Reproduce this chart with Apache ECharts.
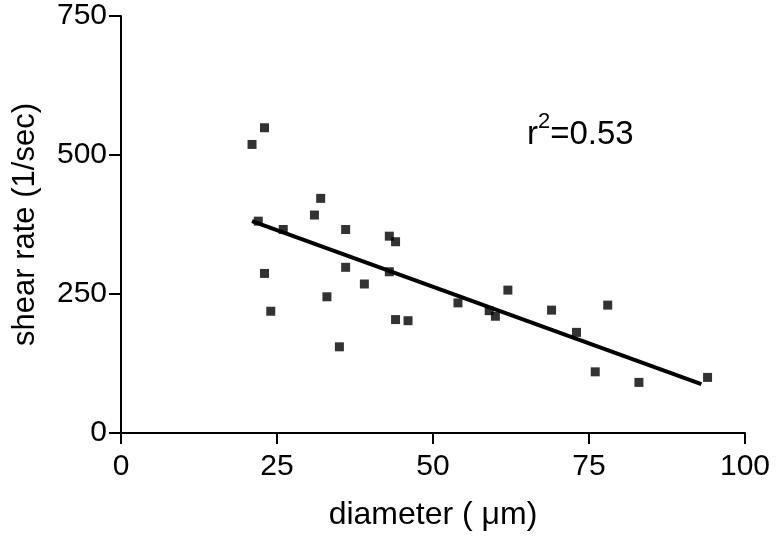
<!DOCTYPE html>
<html>
<head>
<meta charset="utf-8">
<script src="https://cdn.jsdelivr.net/npm/echarts@6/dist/echarts.min.js"></script>
<style>html,body{margin:0;padding:0;background:#fff}#c{width:778px;height:538px}</style>
</head>
<body>
<div id="c"></div>
<script>
// Data
var diameter = [21, 23, 32, 31, 22, 26, 36, 43, 44, 23, 36, 43, 39, 33, 24, 35, 44, 46, 54, 59, 60, 62, 69, 73, 78, 76, 83, 94];
var shearRate = [519, 549, 422, 392, 381, 366, 366, 354, 344, 287, 298, 290, 268, 245, 219, 155, 204, 202, 234, 220, 210, 257, 221, 181, 230, 110, 91, 100];
var fitX = [21, 93];
var fitY = [381, 88];
var xTicks = [0, 25, 50, 75, 100];
var yTicks = [0, 250, 500, 750];

var pts = diameter.map(function (d, i) { return [d, shearRate[i]]; });
var line = fitX.map(function (d, i) { return [d, fitY[i]]; });
var font = 'Liberation Sans, Arial, sans-serif';

var chart = echarts.init(document.getElementById('c'));
chart.setOption({
  animation: false,
  backgroundColor: '#fff',
  grid: { left: 121, right: 33, top: 16, bottom: 105 },
  xAxis: {
    type: 'value', min: 0, max: 100, interval: 25,
    name: 'diameter ( μm)', nameLocation: 'middle', nameGap: 66,
    nameTextStyle: { fontSize: 32, color: '#000', fontFamily: font },
    axisLine: { show: true, lineStyle: { color: '#000', width: 2 } },
    axisTick: { show: true, length: 11, lineStyle: { color: '#000', width: 2 } },
    axisLabel: { fontSize: 30, color: '#000', fontFamily: font, margin: 19,
      formatter: function (v) { return xTicks.indexOf(v) >= 0 ? String(v) : ''; } },
    splitLine: { show: false }
  },
  yAxis: {
    type: 'value', min: 0, max: 750, interval: 250,
    name: 'shear rate (1/sec)', nameLocation: 'middle', nameGap: 80, nameRotate: 90,
    nameTextStyle: { fontSize: 31, color: '#000', fontFamily: font },
    axisLine: { show: true, lineStyle: { color: '#000', width: 2 } },
    axisTick: { show: true, length: 12, lineStyle: { color: '#000', width: 2 } },
    axisLabel: { fontSize: 30, color: '#000', fontFamily: font, margin: 14,
      formatter: function (v) { return yTicks.indexOf(v) >= 0 ? String(v) : ''; } },
    splitLine: { show: false }
  },
  series: [
    { type: 'scatter', data: pts, symbol: 'rect', symbolSize: 9,
      itemStyle: { color: '#000' }, z: 3 },
    { type: 'line', data: line, symbol: 'none', lineStyle: { color: '#000', width: 4 }, z: 2 }
  ],
  graphic: [{
    type: 'text', left: 527, top: 111,
    style: {
      text: '{b|r}{s|2}{b|=0.53}',
      rich: {
        b: { fontSize: 33, fontFamily: font, fill: '#000', lineHeight: 40, verticalAlign: 'bottom' },
        s: { fontSize: 22, fontFamily: font, fill: '#000', lineHeight: 40, verticalAlign: 'top' }
      }
    }
  }]
});
</script>
</body>
</html>
